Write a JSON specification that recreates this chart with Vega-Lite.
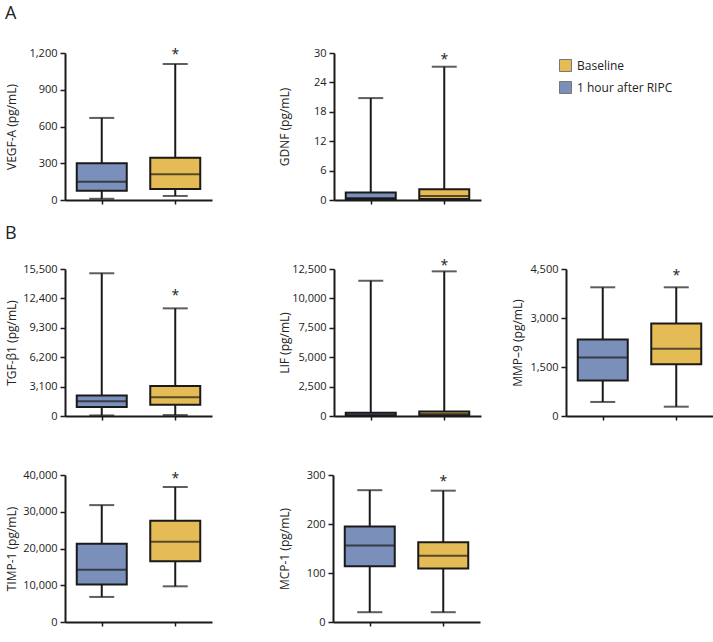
{
"$schema":"https://vega.github.io/schema/vega-lite/v6.json",
"padding":{"left":4,"top":5,"right":5,"bottom":5},
"config":{"view":{"stroke":null},"font":"Open Sans",
"axis":{"grid":false,"domainColor":"#1a1a1a","domainWidth":2,"tickColor":"#1a1a1a","tickWidth":1.5,"tickSize":5,"labelFont":"Open Sans","labelFontSize":11,"labelColor":"#222","labelPadding":3,"titleFont":"Open Sans","titleFontSize":12,"titleFontWeight":"normal","titleColor":"#222"},
"legend":{"symbolType":"square","symbolSize":144,"symbolStrokeColor":"#777","symbolStrokeWidth":1,"labelFont":"Open Sans","labelFontSize":12,"labelColor":"#222","rowPadding":5,"labelOffset":5,"padding":0,"labelLimit":200},
"title":{"font":"Open Sans","fontSize":18,"fontWeight":"normal","color":"#222","anchor":"start"}},
"datasets":{"stats":[
{"panel":"VEGF","group":"1 hour after RIPC","lo":10,"q1":75,"med":150,"q3":300,"hi":670},
{"panel":"VEGF","group":"Baseline","lo":33,"q1":90,"med":210,"q3":345,"hi":1110,"star":1210},
{"panel":"GDNF","group":"1 hour after RIPC","lo":0.2,"q1":0.2,"med":0.4,"q3":1.55,"hi":20.8},
{"panel":"GDNF","group":"Baseline","lo":0.2,"q1":0.2,"med":0.8,"q3":2.2,"hi":27.2,"star":29.2},
{"panel":"TGF","group":"1 hour after RIPC","lo":60,"q1":950,"med":1545,"q3":2150,"hi":15050},
{"panel":"TGF","group":"Baseline","lo":100,"q1":1195,"med":1967,"q3":3170,"hi":11350,"star":13040},
{"panel":"LIF","group":"1 hour after RIPC","lo":10,"q1":30,"med":100,"q3":270,"hi":11500},
{"panel":"LIF","group":"Baseline","lo":10,"q1":40,"med":180,"q3":380,"hi":12300,"star":13070},
{"panel":"MMP","group":"1 hour after RIPC","lo":430,"q1":1085,"med":1790,"q3":2340,"hi":3940},
{"panel":"MMP","group":"Baseline","lo":285,"q1":1585,"med":2057,"q3":2833,"hi":3940,"star":4400},
{"panel":"TIMP","group":"1 hour after RIPC","lo":6820,"q1":10180,"med":14190,"q3":21280,"hi":31810},
{"panel":"TIMP","group":"Baseline","lo":9710,"q1":16535,"med":21830,"q3":27560,"hi":36730,"star":39920},
{"panel":"MCP","group":"1 hour after RIPC","lo":20,"q1":114,"med":156,"q3":195,"hi":269},
{"panel":"MCP","group":"Baseline","lo":20,"q1":109,"med":135,"q3":163,"hi":268,"star":293}
]},
"vconcat":[
{"title":{"text":"A","offset":16},"spacing":65,"hconcat":[
{"width":147,"height":147,"data":{"name":"stats"},"transform":[{"filter":"datum.panel === 'VEGF'"}],
"encoding":{"x":{"field":"group","type":"nominal","scale":{"type":"point","domain":["1 hour after RIPC","Baseline"],"padding":0.5},"axis":{"title":null,"labels":false,"tickSize":4}}},
"layer":[
{"mark":{"type":"rule","strokeWidth":2,"color":"#1a1a1a"},"encoding":{"y":{"field":"lo","type":"quantitative","title":"VEGF-A (pg/mL)","scale":{"domain":[0,1200],"nice":false},"axis":{"values":[0,300,600,900,1200],"format":",.0f","titleX":-47}},"y2":{"field":"hi"}}},
{"mark":{"type":"tick","size":25,"thickness":2,"color":"#1a1a1a"},"encoding":{"y":{"field":"hi","type":"quantitative","title":"VEGF-A (pg/mL)","axis":{"values":[0,300,600,900,1200],"format":",.0f","titleX":-47}}}},
{"mark":{"type":"tick","size":25,"thickness":2,"color":"#1a1a1a"},"encoding":{"y":{"field":"lo","type":"quantitative","title":"VEGF-A (pg/mL)","axis":{"values":[0,300,600,900,1200],"format":",.0f","titleX":-47}}}},
{"mark":{"type":"bar","size":50,"stroke":"#1a1a1a","strokeWidth":2},"encoding":{"y":{"field":"q1","type":"quantitative","title":"VEGF-A (pg/mL)","axis":{"values":[0,300,600,900,1200],"format":",.0f","titleX":-47}},"y2":{"field":"q3"},"color":{"field":"group","type":"nominal","scale":{"domain":["Baseline","1 hour after RIPC"],"range":["#e5bb55","#7a8fba"]},"legend":{"title":null,"orient":"none","legendX":494,"legendY":6}}}},
{"mark":{"type":"tick","size":50,"thickness":2,"color":"#1a1a1a"},"encoding":{"y":{"field":"med","type":"quantitative","title":"VEGF-A (pg/mL)","axis":{"values":[0,300,600,900,1200],"format":",.0f","titleX":-47}}}},
{"transform":[{"filter":"isValid(datum.star)"}],"mark":{"type":"text","text":"*","fontSize":14,"dy":3.5,"color":"#222"},"encoding":{"y":{"field":"star","type":"quantitative","title":"VEGF-A (pg/mL)","axis":{"values":[0,300,600,900,1200],"format":",.0f","titleX":-47}}}},
{"mark":{"type":"text","text":"*","fontSize":14,"opacity":0,"baseline":"bottom"},"encoding":{"y":{"datum":1200,"type":"quantitative","title":"VEGF-A (pg/mL)","axis":{"values":[0,300,600,900,1200],"format":",.0f","titleX":-47}}}}
]},
{"width":147,"height":147,"data":{"name":"stats"},"transform":[{"filter":"datum.panel === 'GDNF'"}],
"encoding":{"x":{"field":"group","type":"nominal","scale":{"type":"point","domain":["1 hour after RIPC","Baseline"],"padding":0.5},"axis":{"title":null,"labels":false,"tickSize":4}}},
"layer":[
{"mark":{"type":"rule","strokeWidth":2,"color":"#1a1a1a"},"encoding":{"y":{"field":"lo","type":"quantitative","title":"GDNF (pg/mL)","scale":{"domain":[0,30],"nice":false},"axis":{"values":[0,6,12,18,24,30],"format":",.0f","titleX":-43}},"y2":{"field":"hi"}}},
{"mark":{"type":"tick","size":25,"thickness":2,"color":"#1a1a1a"},"encoding":{"y":{"field":"hi","type":"quantitative","title":"GDNF (pg/mL)","axis":{"values":[0,6,12,18,24,30],"format":",.0f","titleX":-43}}}},
{"mark":{"type":"bar","size":50,"stroke":"#1a1a1a","strokeWidth":2},"encoding":{"y":{"field":"q1","type":"quantitative","title":"GDNF (pg/mL)","axis":{"values":[0,6,12,18,24,30],"format":",.0f","titleX":-43}},"y2":{"field":"q3"},"color":{"field":"group","type":"nominal","scale":{"domain":["Baseline","1 hour after RIPC"],"range":["#e5bb55","#7a8fba"]},"legend":{"title":null,"orient":"none","legendX":494,"legendY":6}}}},
{"mark":{"type":"tick","size":50,"thickness":2,"color":"#1a1a1a"},"encoding":{"y":{"field":"med","type":"quantitative","title":"GDNF (pg/mL)","axis":{"values":[0,6,12,18,24,30],"format":",.0f","titleX":-43}}}},
{"transform":[{"filter":"isValid(datum.star)"}],"mark":{"type":"text","text":"*","fontSize":14,"dy":3.5,"color":"#222"},"encoding":{"y":{"field":"star","type":"quantitative","title":"GDNF (pg/mL)","axis":{"values":[0,6,12,18,24,30],"format":",.0f","titleX":-43}}}},
{"mark":{"type":"text","text":"*","fontSize":14,"opacity":0,"baseline":"bottom"},"encoding":{"y":{"datum":30,"type":"quantitative","title":"GDNF (pg/mL)","axis":{"values":[0,6,12,18,24,30],"format":",.0f","titleX":-43}}}}
]}
]},
{"spacing":40,"vconcat":[
{"title":{"text":"B","offset":12},"spacing":65,"hconcat":[
{"width":147,"height":147,"data":{"name":"stats"},"transform":[{"filter":"datum.panel === 'TGF'"}],
"encoding":{"x":{"field":"group","type":"nominal","scale":{"type":"point","domain":["1 hour after RIPC","Baseline"],"padding":0.5},"axis":{"title":null,"labels":false,"tickSize":4}}},
"layer":[
{"mark":{"type":"rule","strokeWidth":2,"color":"#1a1a1a"},"encoding":{"y":{"field":"lo","type":"quantitative","title":"TGF-β1 (pg/mL)","scale":{"domain":[0,15500],"nice":false},"axis":{"values":[0,3100,6200,9300,12400,15500],"format":",.0f","titleX":-47}},"y2":{"field":"hi"}}},
{"mark":{"type":"tick","size":25,"thickness":2,"color":"#1a1a1a"},"encoding":{"y":{"field":"hi","type":"quantitative","title":"TGF-β1 (pg/mL)","axis":{"values":[0,3100,6200,9300,12400,15500],"format":",.0f","titleX":-47}}}},
{"mark":{"type":"tick","size":25,"thickness":2,"color":"#1a1a1a"},"encoding":{"y":{"field":"lo","type":"quantitative","title":"TGF-β1 (pg/mL)","axis":{"values":[0,3100,6200,9300,12400,15500],"format":",.0f","titleX":-47}}}},
{"mark":{"type":"bar","size":50,"stroke":"#1a1a1a","strokeWidth":2},"encoding":{"y":{"field":"q1","type":"quantitative","title":"TGF-β1 (pg/mL)","axis":{"values":[0,3100,6200,9300,12400,15500],"format":",.0f","titleX":-47}},"y2":{"field":"q3"},"color":{"field":"group","type":"nominal","scale":{"domain":["Baseline","1 hour after RIPC"],"range":["#e5bb55","#7a8fba"]},"legend":{"title":null,"orient":"none","legendX":494,"legendY":6}}}},
{"mark":{"type":"tick","size":50,"thickness":2,"color":"#1a1a1a"},"encoding":{"y":{"field":"med","type":"quantitative","title":"TGF-β1 (pg/mL)","axis":{"values":[0,3100,6200,9300,12400,15500],"format":",.0f","titleX":-47}}}},
{"transform":[{"filter":"isValid(datum.star)"}],"mark":{"type":"text","text":"*","fontSize":14,"dy":3.5,"color":"#222"},"encoding":{"y":{"field":"star","type":"quantitative","title":"TGF-β1 (pg/mL)","axis":{"values":[0,3100,6200,9300,12400,15500],"format":",.0f","titleX":-47}}}},
{"mark":{"type":"text","text":"*","fontSize":14,"opacity":0,"baseline":"bottom"},"encoding":{"y":{"datum":15500,"type":"quantitative","title":"TGF-β1 (pg/mL)","axis":{"values":[0,3100,6200,9300,12400,15500],"format":",.0f","titleX":-47}}}}
]},
{"spacing":29,"hconcat":[
{"width":147,"height":147,"data":{"name":"stats"},"transform":[{"filter":"datum.panel === 'LIF'"}],
"encoding":{"x":{"field":"group","type":"nominal","scale":{"type":"point","domain":["1 hour after RIPC","Baseline"],"padding":0.5},"axis":{"title":null,"labels":false,"tickSize":4}}},
"layer":[
{"mark":{"type":"rule","strokeWidth":2,"color":"#1a1a1a"},"encoding":{"y":{"field":"lo","type":"quantitative","title":"LIF (pg/mL)","scale":{"domain":[0,12500],"nice":false},"axis":{"values":[0,2500,5000,7500,10000,12500],"format":",.0f","titleX":-43}},"y2":{"field":"hi"}}},
{"mark":{"type":"tick","size":25,"thickness":2,"color":"#1a1a1a"},"encoding":{"y":{"field":"hi","type":"quantitative","title":"LIF (pg/mL)","axis":{"values":[0,2500,5000,7500,10000,12500],"format":",.0f","titleX":-43}}}},
{"mark":{"type":"bar","size":50,"stroke":"#1a1a1a","strokeWidth":2},"encoding":{"y":{"field":"q1","type":"quantitative","title":"LIF (pg/mL)","axis":{"values":[0,2500,5000,7500,10000,12500],"format":",.0f","titleX":-43}},"y2":{"field":"q3"},"color":{"field":"group","type":"nominal","scale":{"domain":["Baseline","1 hour after RIPC"],"range":["#e5bb55","#7a8fba"]},"legend":{"title":null,"orient":"none","legendX":494,"legendY":6}}}},
{"mark":{"type":"tick","size":50,"thickness":2,"color":"#1a1a1a"},"encoding":{"y":{"field":"med","type":"quantitative","title":"LIF (pg/mL)","axis":{"values":[0,2500,5000,7500,10000,12500],"format":",.0f","titleX":-43}}}},
{"transform":[{"filter":"isValid(datum.star)"}],"mark":{"type":"text","text":"*","fontSize":14,"dy":3.5,"color":"#222"},"encoding":{"y":{"field":"star","type":"quantitative","title":"LIF (pg/mL)","axis":{"values":[0,2500,5000,7500,10000,12500],"format":",.0f","titleX":-43}}}},
{"mark":{"type":"text","text":"*","fontSize":14,"opacity":0,"baseline":"bottom"},"encoding":{"y":{"datum":12500,"type":"quantitative","title":"LIF (pg/mL)","axis":{"values":[0,2500,5000,7500,10000,12500],"format":",.0f","titleX":-43}}}}
]},
{"width":147,"height":147,"data":{"name":"stats"},"transform":[{"filter":"datum.panel === 'MMP'"}],
"encoding":{"x":{"field":"group","type":"nominal","scale":{"type":"point","domain":["1 hour after RIPC","Baseline"],"padding":0.5},"axis":{"title":null,"labels":false,"tickSize":4}}},
"layer":[
{"mark":{"type":"rule","strokeWidth":2,"color":"#1a1a1a"},"encoding":{"y":{"field":"lo","type":"quantitative","title":"MMP–9 (pg/mL)","scale":{"domain":[0,4500],"nice":false},"axis":{"values":[0,1500,3000,4500],"format":",.0f","titleX":-42}},"y2":{"field":"hi"}}},
{"mark":{"type":"tick","size":25,"thickness":2,"color":"#1a1a1a"},"encoding":{"y":{"field":"hi","type":"quantitative","title":"MMP–9 (pg/mL)","axis":{"values":[0,1500,3000,4500],"format":",.0f","titleX":-42}}}},
{"mark":{"type":"tick","size":25,"thickness":2,"color":"#1a1a1a"},"encoding":{"y":{"field":"lo","type":"quantitative","title":"MMP–9 (pg/mL)","axis":{"values":[0,1500,3000,4500],"format":",.0f","titleX":-42}}}},
{"mark":{"type":"bar","size":50,"stroke":"#1a1a1a","strokeWidth":2},"encoding":{"y":{"field":"q1","type":"quantitative","title":"MMP–9 (pg/mL)","axis":{"values":[0,1500,3000,4500],"format":",.0f","titleX":-42}},"y2":{"field":"q3"},"color":{"field":"group","type":"nominal","scale":{"domain":["Baseline","1 hour after RIPC"],"range":["#e5bb55","#7a8fba"]},"legend":{"title":null,"orient":"none","legendX":494,"legendY":6}}}},
{"mark":{"type":"tick","size":50,"thickness":2,"color":"#1a1a1a"},"encoding":{"y":{"field":"med","type":"quantitative","title":"MMP–9 (pg/mL)","axis":{"values":[0,1500,3000,4500],"format":",.0f","titleX":-42}}}},
{"transform":[{"filter":"isValid(datum.star)"}],"mark":{"type":"text","text":"*","fontSize":14,"dy":3.5,"color":"#222"},"encoding":{"y":{"field":"star","type":"quantitative","title":"MMP–9 (pg/mL)","axis":{"values":[0,1500,3000,4500],"format":",.0f","titleX":-42}}}},
{"mark":{"type":"text","text":"*","fontSize":14,"opacity":0,"baseline":"bottom"},"encoding":{"y":{"datum":4500,"type":"quantitative","title":"MMP–9 (pg/mL)","axis":{"values":[0,1500,3000,4500],"format":",.0f","titleX":-42}}}}
]}
]}
]},
{"spacing":65,"hconcat":[
{"width":147,"height":147,"data":{"name":"stats"},"transform":[{"filter":"datum.panel === 'TIMP'"}],
"encoding":{"x":{"field":"group","type":"nominal","scale":{"type":"point","domain":["1 hour after RIPC","Baseline"],"padding":0.5},"axis":{"title":null,"labels":false,"tickSize":4}}},
"layer":[
{"mark":{"type":"rule","strokeWidth":2,"color":"#1a1a1a"},"encoding":{"y":{"field":"lo","type":"quantitative","title":"TIMP-1 (pg/mL)","scale":{"domain":[0,40000],"nice":false},"axis":{"values":[0,10000,20000,30000,40000],"format":",.0f","titleX":-47}},"y2":{"field":"hi"}}},
{"mark":{"type":"tick","size":25,"thickness":2,"color":"#1a1a1a"},"encoding":{"y":{"field":"hi","type":"quantitative","title":"TIMP-1 (pg/mL)","axis":{"values":[0,10000,20000,30000,40000],"format":",.0f","titleX":-47}}}},
{"mark":{"type":"tick","size":25,"thickness":2,"color":"#1a1a1a"},"encoding":{"y":{"field":"lo","type":"quantitative","title":"TIMP-1 (pg/mL)","axis":{"values":[0,10000,20000,30000,40000],"format":",.0f","titleX":-47}}}},
{"mark":{"type":"bar","size":50,"stroke":"#1a1a1a","strokeWidth":2},"encoding":{"y":{"field":"q1","type":"quantitative","title":"TIMP-1 (pg/mL)","axis":{"values":[0,10000,20000,30000,40000],"format":",.0f","titleX":-47}},"y2":{"field":"q3"},"color":{"field":"group","type":"nominal","scale":{"domain":["Baseline","1 hour after RIPC"],"range":["#e5bb55","#7a8fba"]},"legend":{"title":null,"orient":"none","legendX":494,"legendY":6}}}},
{"mark":{"type":"tick","size":50,"thickness":2,"color":"#1a1a1a"},"encoding":{"y":{"field":"med","type":"quantitative","title":"TIMP-1 (pg/mL)","axis":{"values":[0,10000,20000,30000,40000],"format":",.0f","titleX":-47}}}},
{"transform":[{"filter":"isValid(datum.star)"}],"mark":{"type":"text","text":"*","fontSize":14,"dy":3.5,"color":"#222"},"encoding":{"y":{"field":"star","type":"quantitative","title":"TIMP-1 (pg/mL)","axis":{"values":[0,10000,20000,30000,40000],"format":",.0f","titleX":-47}}}},
{"mark":{"type":"text","text":"*","fontSize":14,"opacity":0,"baseline":"bottom"},"encoding":{"y":{"datum":40000,"type":"quantitative","title":"TIMP-1 (pg/mL)","axis":{"values":[0,10000,20000,30000,40000],"format":",.0f","titleX":-47}}}}
]},
{"width":147,"height":147,"data":{"name":"stats"},"transform":[{"filter":"datum.panel === 'MCP'"}],
"encoding":{"x":{"field":"group","type":"nominal","scale":{"type":"point","domain":["1 hour after RIPC","Baseline"],"padding":0.5},"axis":{"title":null,"labels":false,"tickSize":4}}},
"layer":[
{"mark":{"type":"rule","strokeWidth":2,"color":"#1a1a1a"},"encoding":{"y":{"field":"lo","type":"quantitative","title":"MCP-1 (pg/mL)","scale":{"domain":[0,300],"nice":false},"axis":{"values":[0,100,200,300],"format":",.0f","titleX":-42}},"y2":{"field":"hi"}}},
{"mark":{"type":"tick","size":25,"thickness":2,"color":"#1a1a1a"},"encoding":{"y":{"field":"hi","type":"quantitative","title":"MCP-1 (pg/mL)","axis":{"values":[0,100,200,300],"format":",.0f","titleX":-42}}}},
{"mark":{"type":"tick","size":25,"thickness":2,"color":"#1a1a1a"},"encoding":{"y":{"field":"lo","type":"quantitative","title":"MCP-1 (pg/mL)","axis":{"values":[0,100,200,300],"format":",.0f","titleX":-42}}}},
{"mark":{"type":"bar","size":50,"stroke":"#1a1a1a","strokeWidth":2},"encoding":{"y":{"field":"q1","type":"quantitative","title":"MCP-1 (pg/mL)","axis":{"values":[0,100,200,300],"format":",.0f","titleX":-42}},"y2":{"field":"q3"},"color":{"field":"group","type":"nominal","scale":{"domain":["Baseline","1 hour after RIPC"],"range":["#e5bb55","#7a8fba"]},"legend":{"title":null,"orient":"none","legendX":494,"legendY":6}}}},
{"mark":{"type":"tick","size":50,"thickness":2,"color":"#1a1a1a"},"encoding":{"y":{"field":"med","type":"quantitative","title":"MCP-1 (pg/mL)","axis":{"values":[0,100,200,300],"format":",.0f","titleX":-42}}}},
{"transform":[{"filter":"isValid(datum.star)"}],"mark":{"type":"text","text":"*","fontSize":14,"dy":3.5,"color":"#222"},"encoding":{"y":{"field":"star","type":"quantitative","title":"MCP-1 (pg/mL)","axis":{"values":[0,100,200,300],"format":",.0f","titleX":-42}}}},
{"mark":{"type":"text","text":"*","fontSize":14,"opacity":0,"baseline":"bottom"},"encoding":{"y":{"datum":300,"type":"quantitative","title":"MCP-1 (pg/mL)","axis":{"values":[0,100,200,300],"format":",.0f","titleX":-42}}}}
]}
]}
]}
]
}
